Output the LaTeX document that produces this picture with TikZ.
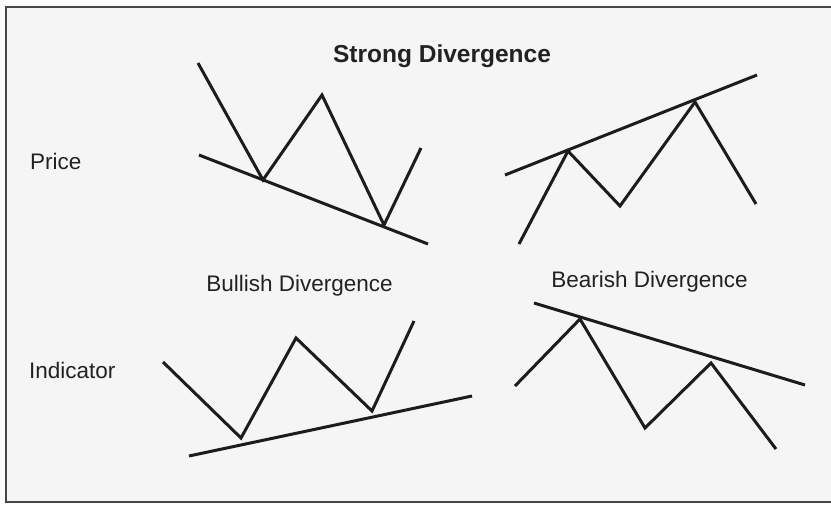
\documentclass[tikz,border=0pt]{standalone}
\usepackage{fontspec}
\setmainfont{Liberation Sans}
\definecolor{bgc}{HTML}{F5F5F5}
\definecolor{outc}{HTML}{FBFBFB}
\definecolor{framec}{HTML}{474747}
\definecolor{inkc}{HTML}{1C1C1C}
\definecolor{txtc}{HTML}{222222}
\begin{document}
\begin{tikzpicture}[x=1pt,y=-1pt,
  zig/.style={draw=inkc,line width=3pt,line join=miter,line cap=butt},
  trend/.style={draw=inkc,line width=3pt,line cap=butt},
  lbl/.style={inner sep=0pt,text=txtc,font=\fontsize{22.5}{24}\selectfont},
  ttl/.style={inner sep=0pt,text=txtc,font=\fontsize{24.5}{26}\selectfont\bfseries}]
\useasboundingbox (0,0) rectangle (831,504);
\fill[outc] (0,0) rectangle (831,504);
\fill[bgc] (6,7) rectangle (840,502);
\draw[framec,line width=2.5pt] (840,7) -- (6,7) -- (6,502) -- (840,502);
% texts
\node[ttl,anchor=base] (title) at (442,62) {Strong Divergence};
\node[lbl,anchor=base west] (price) at (30,169) {Price};
\node[lbl,anchor=base west] (indic) at (29,378) {Indicator};
\node[lbl,anchor=base] (bull) at (299.5,291) {Bullish Divergence};
\node[lbl,anchor=base] (bear) at (649.5,287) {Bearish Divergence};
% top-left price
\coordinate (a1) at (198,63);
\coordinate (a2) at (263,180);
\coordinate (a3) at (322,95);
\coordinate (a4) at (384,225);
\coordinate (a5) at (421,148);
\coordinate (at1) at (199,155);
\coordinate (at2) at (428,244);
\draw[trend] (at1) -- (at2);
\draw[zig] (a1) -- (a2) -- (a3) -- (a4) -- (a5);
% top-right price
\coordinate (b1) at (519,244);
\coordinate (b2) at (568,151);
\coordinate (b3) at (620,206);
\coordinate (b4) at (695,102);
\coordinate (b5) at (756,204);
\coordinate (bt1) at (505,175);
\coordinate (bt2) at (757,75);
\draw[trend] (bt1) -- (bt2);
\draw[zig] (b1) -- (b2) -- (b3) -- (b4) -- (b5);
% bottom-left indicator
\coordinate (c1) at (163,362);
\coordinate (c2) at (241,438);
\coordinate (c3) at (296,338);
\coordinate (c4) at (372,411);
\coordinate (c5) at (414,321);
\coordinate (ct1) at (189,456);
\coordinate (ct2) at (472,396);
\draw[trend] (ct1) -- (ct2);
\draw[zig] (c1) -- (c2) -- (c3) -- (c4) -- (c5);
% bottom-right indicator
\coordinate (d1) at (515,386);
\coordinate (d2) at (580,319);
\coordinate (d3) at (645,428);
\coordinate (d4) at (711,363);
\coordinate (d5) at (776,449);
\coordinate (dt1) at (534,303);
\coordinate (dt2) at (805,385);
\draw[trend] (dt1) -- (dt2);
\draw[zig] (d1) -- (d2) -- (d3) -- (d4) -- (d5);
\end{tikzpicture}
\end{document}
